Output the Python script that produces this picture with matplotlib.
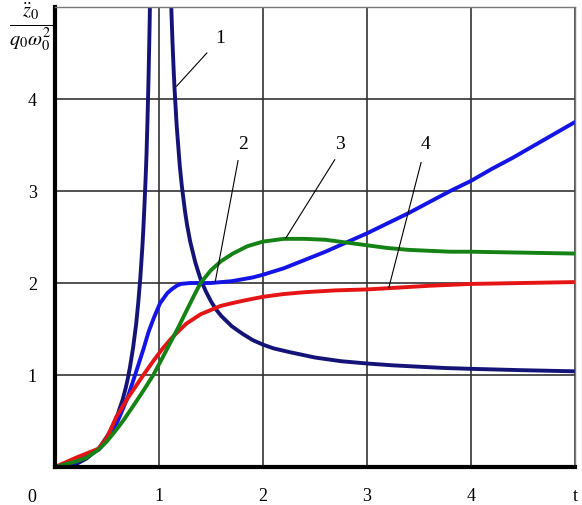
import matplotlib.pyplot as plt

plt.rcParams['font.family'] = 'Liberation Serif'
plt.rcParams['mathtext.fontset'] = 'stix'

# curve 1 (resonance)
t1 = [0, 0.1, 0.2, 0.3, 0.42, 0.5, 0.55, 0.6, 0.62, 0.65, 0.68, 0.7, 0.72, 0.75, 0.78, 0.8,
      0.82, 0.84, 0.85, 0.86, 0.87, 0.88, 0.89, 0.9, 0.91, 0.92, 0.93,
      1.08, 1.1, 1.11, 1.12, 1.13, 1.14, 1.15, 1.17, 1.2, 1.22, 1.25, 1.27, 1.3, 1.35, 1.4,
      1.45, 1.5, 1.55, 1.6, 1.7, 1.8, 1.9, 2.0, 2.1, 2.25, 2.5, 2.75, 3.0, 3.25, 3.5, 3.75,
      4.0, 4.5, 5.0]
v1 = [0, 0.01, 0.03, 0.09, 0.2, 0.33, 0.43, 0.56, 0.63, 0.73, 0.86, 0.96, 1.08, 1.29, 1.55,
      1.78, 2.05, 2.39, 2.6, 2.84, 3.1, 3.4, 3.8, 4.26, 4.82, 5.5, 6.6,
      7.0, 5.76, 5.31, 4.93, 4.61, 4.34, 4.1, 3.71, 3.27, 3.05, 2.78, 2.63, 2.45, 2.22, 2.04,
      1.91, 1.8, 1.71, 1.64, 1.53, 1.45, 1.38, 1.33, 1.29, 1.25, 1.19, 1.15, 1.125, 1.105,
      1.09, 1.076, 1.067, 1.052, 1.04]

# curve 2
t2 = [0, 0.2, 0.42, 0.5, 0.6, 0.7, 0.77, 0.85, 0.9, 0.95, 1.01, 1.08, 1.12, 1.17, 1.21,
      1.3, 1.4, 1.5, 1.6, 1.7, 1.8, 1.9, 2.0, 2.2, 2.4, 2.6, 2.8, 3.0, 3.2, 3.4, 3.6,
      3.8, 4.0, 4.2, 4.4, 4.6, 4.8, 5.0]
v2 = [0, 0.05, 0.19, 0.29, 0.49, 0.76, 1.0, 1.28, 1.47, 1.62, 1.78, 1.89, 1.93, 1.97, 1.99,
      2.0, 2.0, 2.0, 2.01, 2.02, 2.04, 2.06, 2.09, 2.16, 2.25, 2.34, 2.44, 2.54, 2.65,
      2.76, 2.88, 3.0, 3.11, 3.24, 3.36, 3.49, 3.62, 3.75]

# curve 3
t3 = [0, 0.2, 0.3, 0.42, 0.5, 0.6, 0.66, 0.75, 0.85, 0.945, 1.03, 1.12, 1.2, 1.265, 1.34,
      1.4, 1.5, 1.6, 1.71, 1.85, 2.0, 2.2, 2.4, 2.6, 2.8, 3.0, 3.2, 3.4, 3.6, 3.8, 4.0, 4.5,
      5.0]
v3 = [0, 0.06, 0.1, 0.19, 0.28, 0.42, 0.51, 0.66, 0.83, 1.0, 1.18, 1.375, 1.55, 1.70, 1.87,
      2.0, 2.14, 2.24, 2.32, 2.40, 2.45, 2.48, 2.48, 2.47, 2.44, 2.41, 2.38, 2.36, 2.35,
      2.34, 2.34, 2.33, 2.32]

# curve 4
t4 = [0, 0.2, 0.42, 0.5, 0.59, 0.7, 0.85, 0.95, 1.03, 1.12, 1.2, 1.265, 1.4, 1.59, 1.7,
      1.82, 2.0, 2.2, 2.4, 2.7, 3.0, 3.3, 3.6, 4.0, 4.5, 5.0]
v4 = [0, 0.1, 0.2, 0.32, 0.545, 0.75, 1.0, 1.16, 1.28, 1.40, 1.49, 1.56, 1.66, 1.75, 1.78,
      1.81, 1.85, 1.88, 1.90, 1.92, 1.93, 1.95, 1.97, 1.99, 2.0, 2.01]

fig = plt.figure(figsize=(5.82, 5.05), dpi=100)
ax = fig.add_axes([55 / 582, 1 - 467 / 505, 520 / 582, 460 / 505])

ax.plot(t1, v1, color='#141478', lw=2.8)
ax.plot(t2, v2, color='#1414e6', lw=2.8)
ax.plot(t4, v4, color='#e61414', lw=2.8)
ax.plot(t3, v3, color='#148214', lw=2.8)

ax.set_xlim(0, 5)
ax.set_ylim(0, 5)
ax.set_xticks([1, 2, 3, 4, 5])
ax.set_xticklabels(['1', '2', '3', '4', 't'])
ax.set_yticks([1, 2, 3, 4])
ax.tick_params(length=0, labelsize=13)
ax.tick_params(axis='x', pad=15)
ax.tick_params(axis='y', pad=13)
ax.grid(True, color='#333333', lw=1.2)
ax.set_axisbelow(True)

for s in ['left', 'bottom']:
    ax.spines[s].set_linewidth(3)
    ax.spines[s].set_color('black')
for s in ['top', 'right']:
    ax.spines[s].set_linewidth(1)
    ax.spines[s].set_color('#777777')

fig.text(32 / 582, 1 - 497 / 505, '0', ha='center', va='center', fontsize=13)
fig.text(31 / 582, 1 - 27 / 505, r'$\frac{\ddot{z}_0}{q_0\omega_0^2}$',
         ha='center', va='center', fontsize=21)

# curve number labels with leader lines
labels = ['1', '2', '3', '4']
label_pos = [(1.59, 4.66), (1.81, 3.51), (2.74, 3.51), (3.56, 3.51)]
line_start = [(1.46, 4.50), (1.76, 3.33), (2.69, 3.34), (3.52, 3.31)]
line_end = [(1.17, 4.14), (1.54, 2.01), (2.22, 2.49), (3.21, 1.95)]
for lab, p, a, b in zip(labels, label_pos, line_start, line_end):
    ax.plot([a[0], b[0]], [a[1], b[1]], color='black', lw=0.8)
    ax.text(p[0], p[1], lab, ha='center', va='center', fontsize=14)

fig.savefig('out.png', dpi=100)
